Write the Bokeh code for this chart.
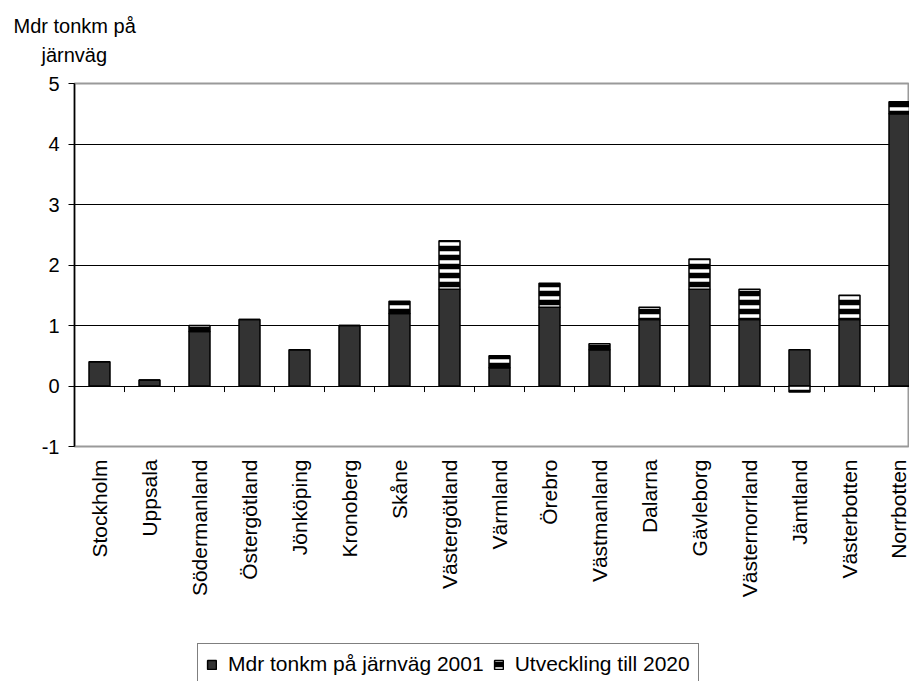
import numpy as np
from bokeh.plotting import figure
from bokeh.layouts import column
from bokeh.models import (Range1d, FixedTicker, Legend, LegendItem, Title)
from bokeh.embed import file_html
from bokeh.resources import INLINE

# Rail freight per county (billion tonne-km)
counties = ["Stockholm", "Uppsala", "Södermanland", "Östergötland", "Jönköping",
            "Kronoberg", "Skåne", "Västergötland", "Värmland", "Örebro",
            "Västmanland", "Dalarna", "Gävleborg", "Västernorrland", "Jämtland",
            "Västerbotten", "Norrbotten"]
base_2001 = [0.4, 0.1, 0.9, 1.1, 0.6, 1.0, 1.2, 1.6, 0.3, 1.3,
             0.6, 1.1, 1.6, 1.1, 0.6, 1.1, 4.5]
growth_2020 = [0.0, 0.0, 0.1, 0.0, 0.0, 0.0, 0.2, 0.8, 0.2, 0.4,
               0.1, 0.2, 0.5, 0.5, -0.1, 0.4, 0.2]
y_ticks = [-1, 0, 1, 2, 3, 4, 5]

FONT = "Liberation Sans"
BASE_STYLE = dict(fill_color="#333333", line_color="black", line_width=1.5)
GROWTH_STYLE = dict(fill_color="white", hatch_pattern="horizontal_line",
                    hatch_color="black", hatch_scale=9, hatch_weight=5.5,
                    line_color="black", line_width=1.5)

n = len(counties)
centers = np.arange(n) + 0.5
base = np.array(base_2001)
growth = np.array(growth_2020)
# Positive growth stacks on top of the 2001 bar, negative growth hangs below zero
g_bottom = np.where(growth >= 0, base, 0.0)
g_top = np.where(growth >= 0, base + growth, growth)

p = figure(width=909, height=640, output_backend="svg", toolbar_location=None,
           x_range=Range1d(0, 16.7), y_range=Range1d(-1, 5),
           min_border_left=74, min_border_right=0, min_border_top=83,
           min_border_bottom=194)
p.background_fill_color = "white"
p.border_fill_color = "white"
p.outline_line_color = "#9a9a9a"
p.outline_line_width = 2

# two-line value axis title, centred over the value axis
p.title.text = "Mdr tonkm på"
p.title.align = "left"
p.title.offset = -61
p.title.standoff = -26
p.title.text_font = FONT
p.title.text_font_size = "20px"
p.title.text_font_style = "normal"
p.title.text_color = "black"
p.add_layout(Title(text="järnväg", align="left", offset=-33, standoff=36,
                   text_font=FONT, text_font_size="20px",
                   text_font_style="normal", text_color="black"), "above")

# gridlines
p.xgrid.visible = False
p.ygrid.ticker = FixedTicker(ticks=[0, 1, 2, 3, 4])
p.ygrid.grid_line_color = "black"
p.ygrid.grid_line_width = 1

# y axis
yax = p.yaxis[0]
yax.ticker = FixedTicker(ticks=y_ticks)
yax.major_label_overrides = {t: str(t) for t in y_ticks}
yax.axis_line_color = "black"
yax.axis_line_width = 1.5
yax.major_tick_in = 0
yax.major_tick_out = 6
yax.major_tick_line_color = "black"
yax.minor_tick_line_color = None
yax.major_label_standoff = 9
yax.major_label_text_font = FONT
yax.major_label_text_font_size = "20px"
yax.major_label_text_color = "black"

# category axis (labels sit below the plot area)
xax = p.xaxis[0]
xax.ticker = FixedTicker(ticks=list(centers))
xax.major_label_overrides = {float(c): name for c, name in zip(centers, counties)}
xax.major_label_orientation = np.pi / 2
xax.axis_line_color = None
xax.major_tick_line_color = None
xax.minor_tick_line_color = None
xax.major_label_standoff = 7
xax.major_label_text_font = FONT
xax.major_label_text_font_size = "21px"
xax.major_label_text_color = "black"

# tick marks between categories on the zero line
bounds = np.arange(1, n)
p.segment(x0=bounds, y0=np.zeros(len(bounds)), x1=bounds,
          y1=np.full(len(bounds), -0.1), line_color="black", line_width=1)

bar_w = 0.42
p.vbar(x=centers, width=bar_w, bottom=0, top=base, **BASE_STYLE)
p.vbar(x=centers, width=bar_w, bottom=g_bottom, top=g_top, **GROWTH_STYLE)

# legend strip underneath the chart; its renderers are hidden so only the
# legend swatches show
leg_fig = figure(width=909, height=41, output_backend="svg", toolbar_location=None,
                 x_range=Range1d(0, 16.7), y_range=Range1d(-1, 5),
                 min_border_left=74, min_border_right=0, min_border_top=0,
                 min_border_bottom=0)
leg_fig.axis.visible = False
leg_fig.grid.visible = False
leg_fig.outline_line_color = None
leg_fig.background_fill_color = "white"
leg_fig.border_fill_color = "white"
r_base = leg_fig.vbar(x=centers, width=bar_w, bottom=0, top=base, **BASE_STYLE)
r_growth = leg_fig.vbar(x=centers, width=bar_w, bottom=g_bottom, top=g_top,
                        **GROWTH_STYLE)
r_base.visible = False
r_growth.visible = False

legend = Legend(items=[LegendItem(label="Mdr tonkm på järnväg 2001", renderers=[r_base]),
                       LegendItem(label="Utveckling till 2020", renderers=[r_growth])],
                orientation="horizontal", location=(123, -4))
legend.border_line_color = "black"
legend.border_line_width = 1
legend.background_fill_color = "white"
legend.background_fill_alpha = 1
legend.inactive_fill_alpha = 0
legend.glyph_width = 11
legend.glyph_height = 11
legend.label_text_font = FONT
legend.label_text_font_size = "21px"
legend.label_text_color = "black"
legend.label_standoff = 11
legend.spacing = 9
legend.padding = 8
legend.margin = 0
leg_fig.add_layout(legend, "center")

layout = column(p, leg_fig, spacing=0)
open("out.html", "w").write(file_html(layout, INLINE))
